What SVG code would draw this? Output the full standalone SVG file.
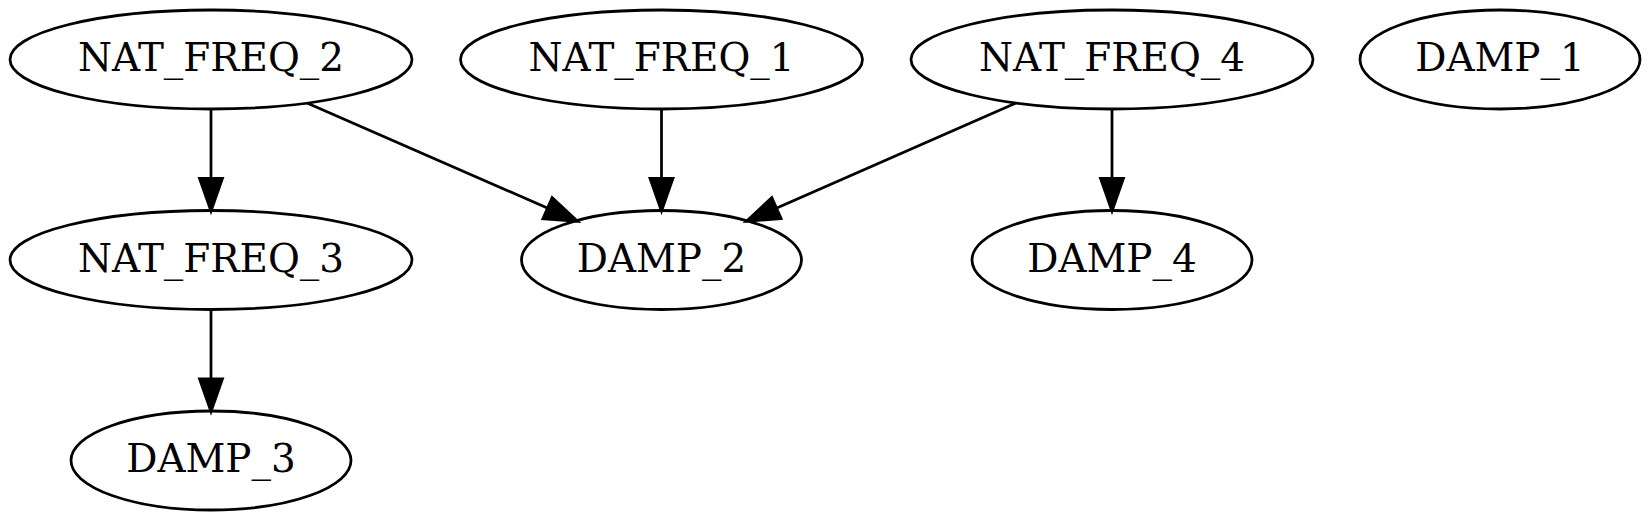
<svg xmlns="http://www.w3.org/2000/svg" width="1651" height="522" viewBox="0 0 1651 522">
<style>
  .node ellipse { fill: none; stroke: #000; stroke-width: 2.77; }
  .node text { font-family: "DejaVu Serif", "Liberation Serif", serif; font-size: 38.9px; text-anchor: middle; fill: #000; }
  .edge line { stroke: #000; stroke-width: 2.77; marker-end: url(#arrow); }
</style>
<defs>
  <marker id="arrow" markerUnits="userSpaceOnUse" markerWidth="40" markerHeight="30" viewBox="-2 -13 34 26" refX="27.7" refY="0" orient="auto">
    <path d="M0,-9.7 L27.7,0 L0,9.7 Z" fill="#000" stroke="#000" stroke-width="2.77"/>
  </marker>
</defs>
<rect width="1651" height="522" fill="#fff"/>
<g id="connectors" class="edge">
  <line x1="211" y1="109" x2="211" y2="210.5"/>
  <line x1="307" y1="103" x2="577" y2="221"/>
  <line x1="661.5" y1="109" x2="661.5" y2="210.5"/>
  <line x1="1016" y1="103" x2="747" y2="221"/>
  <line x1="1112" y1="109" x2="1112" y2="210.5"/>
  <line x1="211" y1="309.5" x2="211" y2="411"/>
</g>
<g id="NAT_FREQ_2" class="node"><ellipse cx="211" cy="59.5" rx="201" ry="49.5"/><text x="211" y="71">NAT_FREQ_2</text></g>
<g id="NAT_FREQ_1" class="node"><ellipse cx="661.5" cy="59.5" rx="201" ry="49.5"/><text x="661.5" y="71">NAT_FREQ_1</text></g>
<g id="NAT_FREQ_4" class="node"><ellipse cx="1112" cy="59.5" rx="201" ry="49.5"/><text x="1112" y="71">NAT_FREQ_4</text></g>
<g id="DAMP_1" class="node"><ellipse cx="1500" cy="59.5" rx="140" ry="49.5"/><text x="1500" y="71">DAMP_1</text></g>
<g id="NAT_FREQ_3" class="node"><ellipse cx="211" cy="260" rx="201" ry="49.5"/><text x="211" y="271.5">NAT_FREQ_3</text></g>
<g id="DAMP_2" class="node"><ellipse cx="661.5" cy="260" rx="140" ry="49.5"/><text x="661.5" y="271.5">DAMP_2</text></g>
<g id="DAMP_4" class="node"><ellipse cx="1112" cy="260" rx="140" ry="49.5"/><text x="1112" y="271.5">DAMP_4</text></g>
<g id="DAMP_3" class="node"><ellipse cx="211" cy="460.5" rx="140" ry="49.5"/><text x="211" y="472">DAMP_3</text></g>
</svg>
